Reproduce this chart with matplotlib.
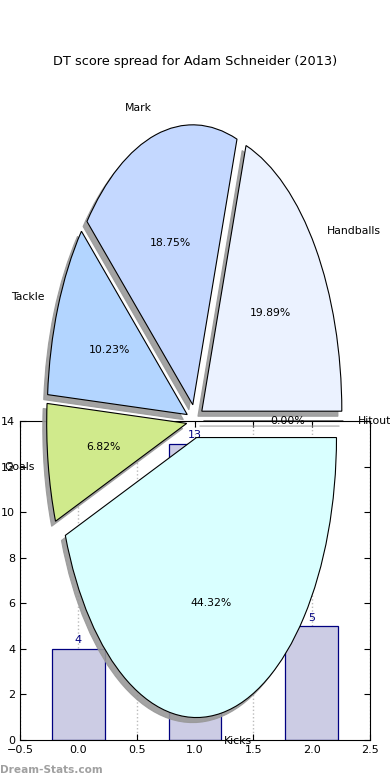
import matplotlib
matplotlib.use("Agg")
import matplotlib.pyplot as plt

# pie data (counter-clockwise from 0 deg)
pie_labels = ["Hitout", "Handballs", "Mark", "Tackle", "Goals", "Kicks"]
pie_values = [0, 35, 33, 18, 12, 78]
pie_colors = ["#ffe0e0", "#ebf2ff", "#c4d8ff", "#b3d5ff", "#d0ea8c", "#d9ffff"]

# bar data
bar_x = [0, 1, 2]
bar_values = [4, 13, 5]

title = "DT score spread for Adam Schneider (2013)"


def get_graph():
    fig = plt.figure(figsize=(3.9, 7.8), dpi=100)

    # bar chart underneath
    ax2 = fig.add_axes([0.0513, 0.0513, 0.8974, 0.409])
    ax2.bar(bar_x, bar_values, width=0.45, color="#ccccE4", edgecolor="#000080",
            linewidth=0.9, align="center", zorder=2)
    for x, v in zip(bar_x, bar_values):
        ax2.text(x, v + 0.15, str(v), ha="center", va="bottom", color="#000080", fontsize=8)
    ax2.set_xlim(-0.5, 2.5)
    ax2.set_ylim(0, 14)
    ax2.set_xticks([-0.5, 0.0, 0.5, 1.0, 1.5, 2.0, 2.5])
    ax2.set_yticks(range(0, 15, 2))
    ax2.xaxis.grid(True, linestyle=":", color="#bbbbbb", linewidth=1, zorder=0)
    ax2.set_axisbelow(True)
    ax2.tick_params(direction="in", top=True, right=True, labelsize=8, length=4)

    # exploded pie on top
    ax1 = fig.add_axes([0.0513, 0.01154, 0.8974, 0.8974])
    ax1.pie(pie_values, labels=pie_labels, colors=pie_colors, explode=[0.06] * 6,
            autopct="%1.2f%%", startangle=0,
            shadow={"ox": -0.02, "oy": -0.013, "facecolor": "#999999",
                    "edgecolor": "#999999", "alpha": 0.9},
            wedgeprops={"edgecolor": "black", "linewidth": 0.8},
            textprops={"fontsize": 7.8})
    ax1.set_aspect("auto")
    ax1.set_xlim(-1.25, 1.25)
    ax1.set_ylim(-1.25, 1.25)
    ax1.patch.set_alpha(0)

    fig.text(0.5, 1 - 61 / 780, title, ha="center", va="center", fontsize=9.3)
    fig.text(0.0, 1 - 770 / 780, "Dream-Stats.com", ha="left", va="center",
             fontsize=7.6, color="#a0a0a0", fontweight="bold")

    fig.savefig("out.png", dpi=100)


if __name__ == '__main__':
    get_graph()
